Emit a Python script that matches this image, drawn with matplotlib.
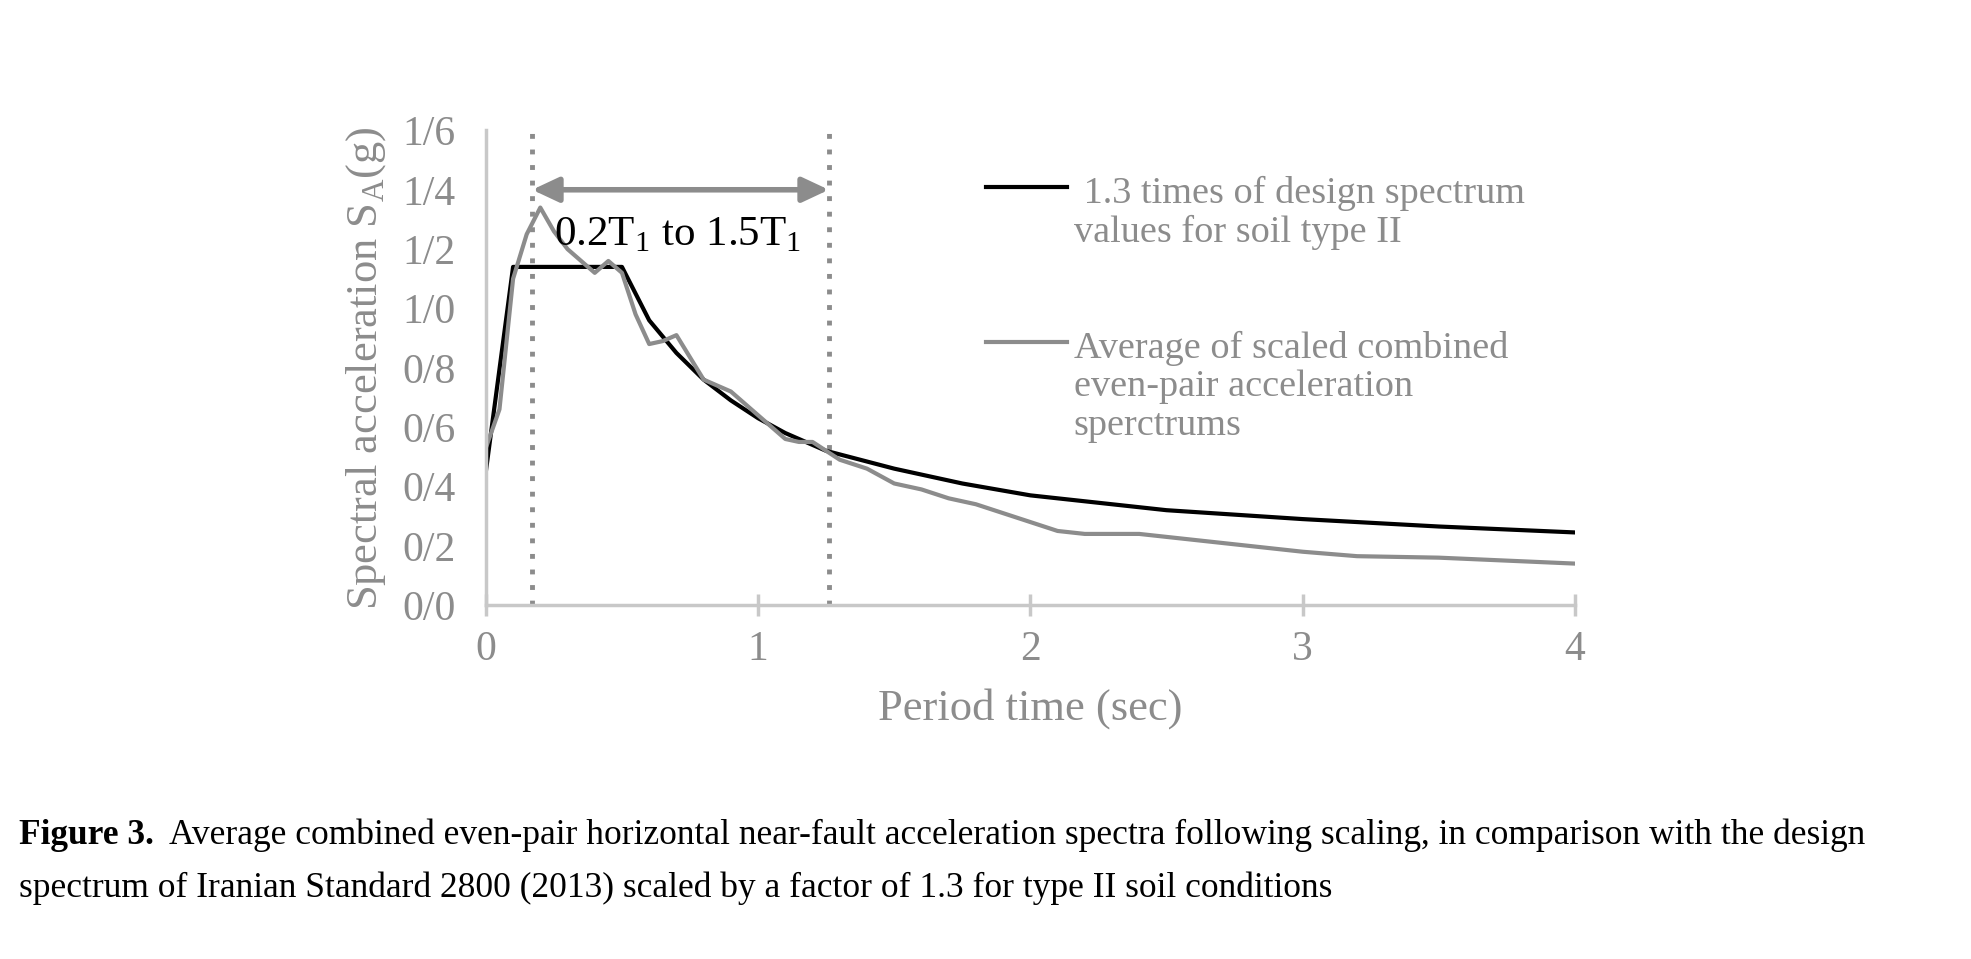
import matplotlib.pyplot as plt
from matplotlib.lines import Line2D
from matplotlib.ticker import FuncFormatter

plt.rcParams['font.family'] = ['Liberation Serif', 'DejaVu Serif']
plt.rcParams['mathtext.fontset'] = 'custom'
plt.rcParams['mathtext.rm'] = 'Liberation Serif'

# design spectrum x1.3, soil type II
design_t = [0, 0.1, 0.5, 0.6, 0.7, 0.8, 0.9, 1.0, 1.1, 1.25, 1.5, 1.75, 2.0, 2.5, 3.0, 3.5, 4.0]
design_sa = [0.45, 1.14, 1.14, 0.96, 0.85, 0.76, 0.69, 0.63, 0.58, 0.52, 0.46, 0.41, 0.37, 0.32, 0.29, 0.265, 0.245]

# average scaled even-pair spectrum
avg_t = [0, 0.05, 0.1, 0.15, 0.2, 0.25, 0.3, 0.35, 0.4, 0.45, 0.5, 0.55, 0.6, 0.65, 0.7,
         0.8, 0.9, 1.0, 1.1, 1.15, 1.2, 1.3, 1.4, 1.5, 1.6, 1.7, 1.8, 1.9, 2.0, 2.1, 2.2,
         2.4, 2.6, 2.8, 3.0, 3.2, 3.5, 4.0]
avg_sa = [0.53, 0.66, 1.1, 1.25, 1.34, 1.26, 1.2, 1.16, 1.12, 1.16, 1.12, 0.98, 0.88, 0.89, 0.91,
          0.76, 0.72, 0.64, 0.56, 0.55, 0.55, 0.49, 0.46, 0.41, 0.39, 0.36, 0.34, 0.31, 0.28, 0.25, 0.24,
          0.24, 0.22, 0.2, 0.18, 0.165, 0.16, 0.14]

labels = [' 1.3 times of design spectrum\nvalues for soil type II',
          'Average of scaled combined\neven-pair acceleration\nsperctrums']

t_lo, t_hi = 0.17, 1.26
grey = '#8c8c8c'

fig = plt.figure(figsize=(19.71, 9.59), dpi=100)
ax = fig.add_axes([0.2465, 0.369, 0.5525, 0.495])

ax.axvline(t_lo, color=grey, ls=(0, (1, 2.2)), lw=3.5)
ax.axvline(t_hi, color=grey, ls=(0, (1, 2.2)), lw=3.5)
ax.plot(design_t, design_sa, color='black', lw=3)
ax.plot(avg_t, avg_sa, color=grey, lw=3)

ax.annotate('', xy=(t_lo, 1.4), xytext=(t_hi, 1.4),
            arrowprops=dict(arrowstyle='<|-|>,head_length=1.6,head_width=0.75', color=grey, lw=4, shrinkA=0, shrinkB=0))
ax.text(0.25, 1.25, r'0.2T$_1$ to 1.5T$_1$', fontsize=31, color='black', va='center')

ax.set_xlim(0, 4)
ax.set_ylim(0, 1.6)
ax.set_xticks([0, 1, 2, 3, 4])
ax.set_yticks([0, 0.2, 0.4, 0.6, 0.8, 1.0, 1.2, 1.4, 1.6])
ax.yaxis.set_major_formatter(FuncFormatter(lambda v, p: f'{v:.1f}'.replace('.', '/')))
for s in ['top', 'right']:
    ax.spines[s].set_visible(False)
for s in ['left', 'bottom']:
    ax.spines[s].set_color('#c8c8c8')
    ax.spines[s].set_linewidth(2.5)
ax.tick_params(axis='y', length=0, labelsize=30, labelcolor=grey, pad=22)
ax.tick_params(axis='x', direction='inout', length=16, width=2.5, color='#c8c8c8', labelsize=30, labelcolor=grey, pad=10)
ax.set_xlabel('Period time (sec)', fontsize=32, color=grey, labelpad=14)
ax.set_ylabel(r'Spectral acceleration S$_\mathregular{A}$(g)', fontsize=32, color=grey, labelpad=10)

# legend drawn by hand to match the spacing
for lab, col, y in zip(labels, ['black', grey], [0.805, 0.643]):
    fig.add_artist(Line2D([0.5, 0.5415], [y, y], color=col, lw=3, transform=fig.transFigure))
    fig.text(0.5447, y + 0.012, lab, fontsize=27.5, color=grey, va='top', linespacing=1.15,
             transform=fig.transFigure)

fig.text(0.0096, 0.12, 'Figure 3.', fontsize=25.5, weight='bold', color='black')
fig.text(0.0858, 0.12, 'Average combined even-pair horizontal near-fault acceleration spectra following scaling, in comparison with the design',
         fontsize=25.5, color='black')
fig.text(0.0096, 0.065, 'spectrum of Iranian Standard 2800 (2013) scaled by a factor of 1.3 for type II soil conditions',
         fontsize=25.5, color='black')

fig.savefig('out.png', dpi=100)
